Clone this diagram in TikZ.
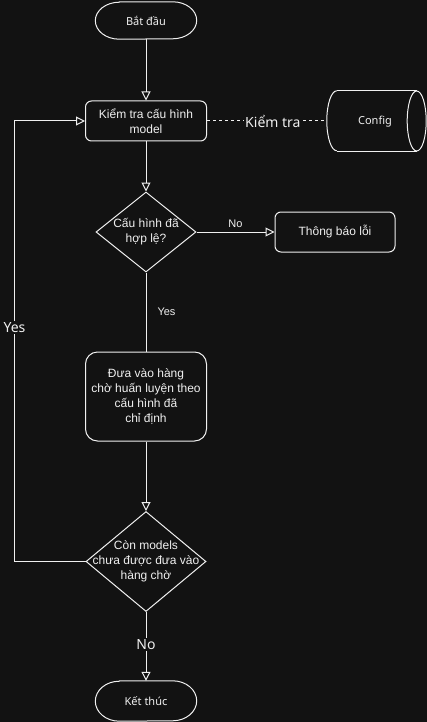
\documentclass[tikz,border=0pt]{standalone}
\usepackage{fontspec}
\setmainfont{Liberation Sans}
\newfontfamily\handfont{Noto Sans}
\usetikzlibrary{arrows.meta,calc,shapes.geometric}
\definecolor{bg}{HTML}{121212}
\definecolor{fg}{HTML}{F0F0F0}
\begin{document}
\begin{tikzpicture}[x=1pt,y=1pt,
  ln/.style={draw=fg, line width=1pt},
  arr/.style={ln, -{Triangle[open, length=9pt, width=9pt]}},
  txt/.style={text=fg, align=center, inner sep=0pt, font=\fontsize{12}{14.8}\selectfont},
  procbox/.style={txt, draw=fg, line width=1pt, fill=bg, rounded corners=6pt},
  decision/.style={diamond, draw=fg, line width=1pt, fill=bg, inner sep=0pt, shape aspect=1},
  handbox/.style={text=fg, inner sep=0pt, font=\handfont\fontsize{11}{13}\selectfont},
  elabel/.style={text=fg, inner sep=1pt, font=\fontsize{11}{13}\selectfont},
  handlabel/.style={text=fg, fill=bg, inner sep=1.5pt, font=\handfont\fontsize{14}{16}\selectfont},
]
% canvas
\fill[bg] (0,0) rectangle (427,-722);
\useasboundingbox (0,0) rectangle (427,-722);

% terminals (outlines drawn below)
\node[handbox, minimum width=101pt, minimum height=37pt] (start) at (146,-20.5) {Bắt đầu};
\node[handbox, minimum width=101pt, minimum height=40pt] (stop) at (146,-701) {Kết thúc};

% process boxes
\node[procbox, minimum width=121pt, minimum height=40pt] (check) at (146,-121) {Kiểm tra cấu hình\\model};
\node[procbox, minimum width=120pt, minimum height=40pt] (err) at (335,-232) {Thông báo lỗi};
\node[procbox, rounded corners=12pt, minimum width=121pt, minimum height=89pt] (queue) at (146,-396.5) {Đưa vào hàng\\chờ huấn luyện theo\\cấu hình đã\\chỉ định};

% decisions
\node[decision, minimum width=100pt, minimum height=80pt] (valid) at (146,-232) {};
\node[txt] (validt) at (valid) {Cấu hình đã\\hợp lệ?};
\node[decision, minimum width=120pt, minimum height=100pt] (more) at (146,-561.5) {};
\node[txt] (moret) at (more) {Còn models\\chưa được đưa vào\\hàng chờ};

% config store
\node[handbox, minimum width=99pt, minimum height=60pt] (cfg) at (376.5,-121) {};
\node[handbox] (cfgt) at (375,-122) {Config};

% terminal outlines
\foreach \n/\r in {start/18.5, stop/20} {
  \draw[ln] ($(\n.north west)+(24,0)$) -- ($(\n.north east)+(-24,0)$)
    arc[start angle=90, end angle=-90, x radius=24, y radius=\r]
    -- ($(\n.south west)+(24,0)$)
    arc[start angle=270, end angle=90, x radius=24, y radius=\r] -- cycle;
}

% cylinder outline
\draw[ln] ($(cfg.north west)+(10,0)$) -- ($(cfg.north east)+(-9.5,0)$);
\draw[ln] ($(cfg.south west)+(10,0)$) -- ($(cfg.south east)+(-9.5,0)$);
\draw[ln] ($(cfg.north west)+(10,0)$) arc[start angle=90, end angle=270, x radius=10, y radius=30];
\draw[ln] ($(cfg.east)+(-9.5,0)$) ellipse[x radius=9.5, y radius=30];

% connectors
\draw[arr] (start.south) -- (check.north);
\draw[ln, dash pattern=on 3pt off 3pt] (check.east) -- (cfg.west)
  node[handlabel, pos=0.55] (lk) {Kiểm tra};
\draw[arr] (check.south) -- (valid.north);
\draw[arr] (valid.east) -- (err.west) node[elabel, pos=0.5, above=3pt] (lno) {No};
\draw[ln] (valid.south) -- (queue.north) node[elabel, pos=0.5, right=10pt] (lyes) {Yes};
\draw[arr] (queue.south) -- (more.north);
\draw[arr] (more.west) -- ++(-71,0) |- (check.west)
  node[handlabel, pos=0.266] (lyes2) {Yes};
\draw[arr] (more.south) -- (stop.north) node[handlabel, pos=0.47] (lno2) {No};
\end{tikzpicture}
\end{document}
